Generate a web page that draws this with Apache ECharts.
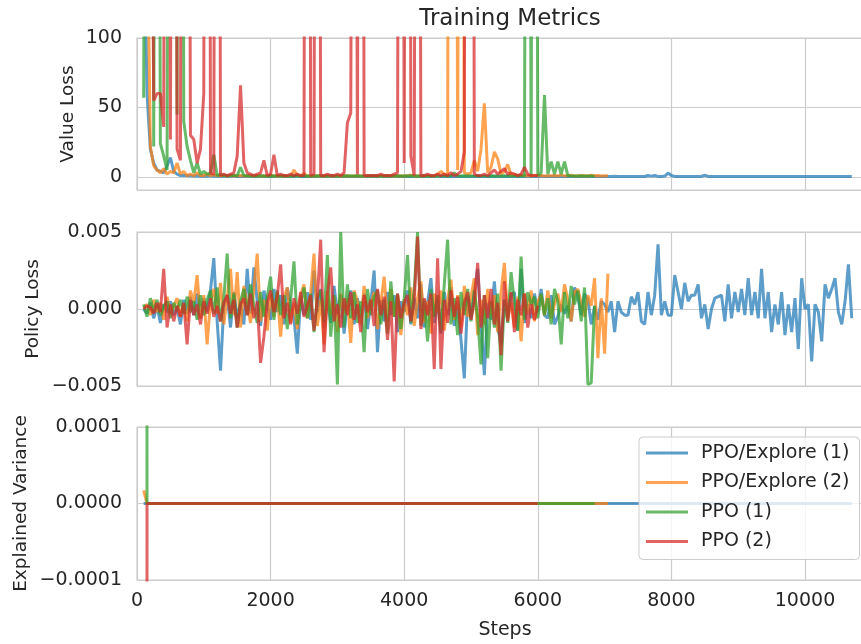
<!DOCTYPE html>
<html>
<head>
<meta charset="utf-8">
<script src="https://cdn.jsdelivr.net/npm/echarts@6/dist/echarts.min.js"></script>
<style>html,body{margin:0;padding:0;background:#fff}#c{width:861px;height:644px}</style>
</head>
<body>
<div id="c"></div>
<script>
// ---- data ----
const STEP_START = 100, STEP_INTERVAL = 50;
const runNames = ['PPO/Explore (1)', 'PPO/Explore (2)', 'PPO (1)', 'PPO (2)'];
const xTickValues = [0, 2000, 4000, 6000, 8000, 10000];

const valueLossExplore1 = [200, 60, 20, 10, 5, 4, 3, 8, 14, 4, 2, 1,
 1.2, 0.8, 1.0, 0.6, 0.9, 0.5, 0.7, 0.4, 0.8, 0.5,
 0.6, 0.4, 0.7, 0.3, 0.5, 0.6, 0.4, 0.5, 0.3, 0.6,
 0.4, 0.5, 0.3, 0.6, 0.4, 0.3, 0.5, 0.4, 0.6, 0.3,
 0.5, 0.4, 0.3, 0.5, 0.6, 0.4, 0.3, 0.5, 0.4, 0.3,
 0.4, 0.6, 0.3, 0.4, 0.5, 0.3, 0.4, 0.6, 0.3, 0.5,
 0.3, 0.4, 0.5, 0.3, 0.4, 0.3, 0.5, 0.4, 0.3, 0.4,
 0.5, 0.3, 0.4, 0.6, 0.3, 0.4, 0.3, 0.5, 0.4, 0.3,
 0.4, 0.3, 0.5, 0.4, 0.3, 0.4, 0.6, 0.3, 0.4, 0.3,
 0.5, 0.4, 0.3, 0.4, 0.3, 0.5, 0.4, 0.3, 0.4, 0.5,
 0.3, 0.4, 0.3, 0.5, 0.4, 0.3, 0.4, 0.3, 0.5, 0.4,
 0.3, 0.4, 0.5, 0.3, 0.4, 0.3, 0.4, 0.5, 0.3, 0.4,
 0.3, 0.5, 0.4, 0.3, 0.4, 0.3, 0.5, 0.4, 0.3, 0.4,
 0.3, 0.4, 0.5, 0.3, 0.4, 0.3, 0.4,
 0.4, 0.3, 0.5, 0.3, 0.4, 0.3, 0.4, 0.3, 0.4, 0.3,
 0.4, 0.3, 1.0, 0.6, 1.0, 0.4, 0.3, 0.6, 2.8, 1.0,
 0.4, 0.3, 0.4, 0.3, 0.4, 0.3, 0.4, 0.3, 0.4, 1.2,
 0.4, 0.3, 0.4, 0.3, 0.4, 0.3, 0.4, 0.3, 0.4, 0.3,
 0.4, 0.3, 0.4, 0.3, 0.4, 0.3, 0.4, 0.3, 0.4, 0.3,
 0.4, 0.3, 0.4, 0.3, 0.4, 0.3, 0.4, 0.3, 0.4, 0.3,
 0.4, 0.3, 0.4, 0.3, 0.4, 0.3, 0.4, 0.3, 0.4, 0.3,
 0.4, 0.3, 0.4, 0.3];
const valueLossExplore2 = [300, 200, 22, 8, 5, 3, 6, 2, 4, 3, 10, 2,
 4, 1, 2, 1, 3, 1, 1, 2, 1, 1.5,
 1, 0.8, 1.2, 0.7, 1, 0.6, 0.9, 1.1, 0.7, 0.8,
 0.9, 0.6, 1, 0.7, 0.8, 0.6, 1.2, 0.7, 0.9, 0.6,
 0.8, 0.7, 0.6, 5, 1, 0.8, 2.5, 0.7, 0.6, 0.9,
 0.7, 0.8, 0.6, 0.9, 0.7, 0.6, 0.8, 0.7, 0.6, 0.9,
 0.7, 0.6, 0.8, 0.7, 0.6, 0.9, 0.7, 0.6, 0.8, 0.7,
 0.6, 0.8, 0.7, 0.6, 0.9, 0.7, 0.6, 0.8, 1.5, 0.7,
 0.6, 0.8, 0.7, 1.2, 0.8, 0.7, 2, 4, 2, 0.8,
 1400, 1100, 5, 900, 3, 2, 3, 12, 4, 20,
 53, 3, 7, 18, 13, 2, 4, 9, 1, 2,
 1, 1.5, 0.8, 1, 0.7, 1.2, 0.8, 1, 0.7, 0.9,
 0.8, 1, 0.7, 1.5, 0.8, 0.9, 1.2, 0.7, 0.8, 1,
 0.9, 0.7, 1.2, 0.8, 1, 0.7, 0.9, 0.8];
const valueLossPPO1 = [57, 900, 1200, 22, 800, 24, 15, 5, 1000, 1300, 45, 1100,
 40, 22, 12, 3, 10, 2, 4, 2, 3, 16,
 1, 2, 1, 0.8, 1, 1.2, 0.8, 7, 1, 0.8,
 0.7, 0.9, 0.6, 0.8, 0.7, 0.6, 0.8, 0.7, 0.6, 0.8,
 0.6, 0.7, 0.8, 0.6, 0.7, 0.6, 0.8, 0.7, 0.6, 0.7,
 0.8, 0.6, 0.7, 0.6, 0.8, 0.7, 0.6, 0.7, 0.8, 0.6,
 0.7, 0.6, 0.8, 0.7, 0.6, 0.7, 0.8, 0.6, 0.7, 0.6,
 0.8, 0.7, 0.6, 0.7, 0.8, 0.6, 0.7, 0.6, 0.8, 0.7,
 0.6, 0.7, 0.8, 0.6, 0.7, 0.6, 0.8, 0.7, 0.6, 0.7,
 0.8, 3, 0.7, 0.6, 0.8, 0.7, 0.6, 0.7, 0.8, 0.6,
 0.7, 0.6, 0.8, 0.7, 0.6, 0.7, 0.8, 0.6, 0.7, 0.6,
 0.8, 0.7, 0.9, 1000, 1, 1000, 1, 3, 59, 2,
 11, 2, 11, 2, 11, 1, 0.8, 0.7, 0.6, 0.8,
 0.7, 0.6, 0.7, 0.5];
const valueLossPPO2 = [900, 700, 400, 55, 60, 60, 36, 1200, 27, 900, 20, 12,
 1100, 800, 30, 27, 10, 20, 60, 1500, 3, 2,
 1300, 1, 2, 1, 2, 3, 15, 66, 10, 3,
 2, 1, 2, 3, 12, 1, 2, 16, 1, 2,
 1, 1, 2, 1, 2, 1, 1, 1500, 1, 2,
 1200, 1, 1, 2, 1, 1, 2, 1, 3, 39,
 46, 900, 2, 1400, 1, 1, 1, 1, 1, 2,
 1, 1, 1, 2, 3, 1100, 10, 1300, 15, 1,
 1000, 1, 1, 2, 1, 1, 2, 1, 2, 1,
 3, 1, 2, 4, 18, 1600, 1200, 2, 1, 1,
 2, 1, 3, 5, 2, 4, 6, 2, 3, 2,
 1, 2, 7, 2, 1, 1, 1];

const policyLossExplore1 = [0.0000, -0.0003, 0.0004, -0.0006, 0.0002, -0.0009, 0.0003, -0.0002, 0.0005, -0.0004, 0.0001, -0.0010, 0.0006, -0.0003,
 0.0008, -0.0004, 0.0010, -0.0006, 0.0007, -0.0002, 0.0012,
 0.0033, -0.0008, -0.0040, 0.0002, 0.0009, -0.0012, 0.0011, -0.0006, 0.0004, -0.0010,
 0.0026, -0.0003, 0.0027, 0.0005, -0.0011, 0.0012, 0.0003, -0.0007, 0.0013, -0.0002,
 0.0009, -0.0010, 0.0014, 0.0002, -0.0006, -0.0029, 0.0008, -0.0004, 0.0011, -0.0007,
 0.0025, -0.0002, 0.0013, -0.0012, 0.0006, -0.0009, 0.0015, -0.0003, 0.0009, -0.0016,
 0.0004, 0.0012, -0.0010, 0.0007, -0.0005, 0.0010, -0.0013, 0.0004, 0.0025, -0.0028,
 0.0006, -0.0008, 0.0011, -0.0004, 0.0009, -0.0015, 0.0005, -0.0002, 0.0012, -0.0010,
 0.0007, -0.0006, 0.0016, -0.0012, 0.0004, 0.0020, -0.0009, 0.0006, -0.0016, 0.0011,
 -0.0004, 0.0014, -0.0011, 0.0005, -0.0020, -0.0045, 0.0008, -0.0006, 0.0012, 0.0026,
 -0.0010, -0.0043, 0.0004, -0.0007, 0.0018, -0.0012, -0.0023, 0.0006, -0.0004, 0.0009,
 0.0011, -0.0014, 0.0026, -0.0009, 0.0003, -0.0006, 0.0010, -0.0002, 0.0013, -0.0004,
 -0.0006, 0.0009, -0.0010, -0.0005, 0.0003, -0.0003, 0.0002, -0.0008, 0.0014, 0.0008,
 -0.0004, 0.0010, 0.0006, -0.0010, 0.0002, -0.0007, 0.0005, 0.0003,
 -0.0002, 0.0005, -0.0015, 0.0005, -0.0002, -0.0004, -0.0004, 0.0008, 0.0003, 0.0011,
 -0.0008, -0.0010, 0.0011, -0.0004, 0.0009, 0.0042, -0.0004, 0.0005, -0.0004, -0.0004,
 0.0022, 0.0011, 0.0000, 0.0017, 0.0005, 0.0009, 0.0009, 0.0016, -0.0006, 0.0003,
 -0.0013, 0.0000, 0.0007, 0.0008, 0.0009, -0.0008, 0.0016, -0.0006, 0.0011, -0.0002,
 0.0013, -0.0004, 0.0020, -0.0004, 0.0011, -0.0006, 0.0026, -0.0006, 0.0011, -0.0015,
 0.0003, -0.0010, 0.0011, -0.0017, 0.0003, -0.0015, 0.0007, -0.0026, 0.0020, 0.0000,
 0.0003, -0.0034, 0.0003, -0.0002, -0.0021, 0.0016, 0.0007, 0.0013, 0.0020, -0.0002,
 -0.0010, 0.0005, 0.0029, -0.0006];
const policyLossExplore2 = [0.0001, 0.0003, -0.0004, 0.0006, -0.0002, 0.0004, -0.0007, 0.0008, -0.0003, 0.0002, 0.0007, -0.0005, 0.0003, -0.0008,
 0.0012, 0.0004, 0.0022, -0.0006, 0.0009, -0.0023, 0.0005,
 0.0013, -0.0003, 0.0017, -0.0010, 0.0008, 0.0026, -0.0004, 0.0024, -0.0012, 0.0015, 0.0003, -0.0009, 0.0013, 0.0036, -0.0008, 0.0006, -0.0014, 0.0010,
 -0.0005, 0.0011, -0.0018, 0.0007, 0.0014, -0.0009, 0.0004, -0.0013, 0.0009, 0.0016, -0.0006, 0.0010, 0.0036, -0.0011, 0.0006, -0.0023, 0.0012, -0.0004, 0.0008, -0.0015,
 0.0010, -0.0003, 0.0007, -0.0022, 0.0012, 0.0005, -0.0010, 0.0015, -0.0006, 0.0003, 0.0011, -0.0013, 0.0004, 0.0021, -0.0008, 0.0013, -0.0005, 0.0009, -0.0017, 0.0006,
 -0.0004, 0.0014, -0.0011, 0.0007, 0.0018, -0.0009, 0.0005, -0.0016, 0.0010, -0.0002, 0.0012, -0.0014, 0.0006, 0.0019, -0.0007, 0.0009, -0.0012, 0.0015, -0.0005, 0.0008,
 0.0020, -0.0017, 0.0006, -0.0010, 0.0013, -0.0004, 0.0009, -0.0015, 0.0011, 0.0030, -0.0006, 0.0004, -0.0012, 0.0008, -0.0021, 0.0010, -0.0003, 0.0012, -0.0008, 0.0005,
 0.0009, -0.0004, 0.0012, -0.0006, 0.0003, 0.0010, -0.0002, 0.0016, 0.0006, -0.0008, 0.0011, 0.0013, 0.0004, -0.0005, 0.0009, 0.0002, 0.0020, -0.0032, 0.0007, -0.0029, 0.0023];
const policyLossPPO1 = [0.0003, -0.0005, 0.0007, -0.0002, 0.0006, -0.0004, 0.0002, 0.0005, -0.0006, 0.0004, -0.0001, 0.0006, -0.0003, 0.0008,
 -0.0002, 0.0005, -0.0007, 0.0009, -0.0004, 0.0006, 0.0012,
 -0.0003, 0.0014, -0.0008, 0.0007, 0.0036, -0.0006, 0.0010, -0.0012, 0.0005, 0.0013, -0.0004, 0.0016, 0.0002, -0.0009, 0.0011, -0.0005, 0.0008, 0.0021,
 -0.0007, 0.0012, -0.0004, 0.0009, -0.0013, 0.0006, 0.0031, -0.0010, 0.0004, 0.0014, -0.0006, 0.0010, -0.0015, 0.0007, 0.0012, -0.0008, 0.0035, -0.0018, 0.0009, -0.0049,
 0.0050, -0.0012, 0.0016, -0.0006, 0.0011, -0.0009, 0.0005, -0.0028, 0.0013, -0.0004, 0.0008, 0.0012, -0.0010, 0.0006, -0.0016, 0.0018, -0.0005, 0.0010, -0.0013, 0.0007,
 0.0035, -0.0009, 0.0012, 0.0050, -0.0011, 0.0006, -0.0021, 0.0013, -0.0005, 0.0009, -0.0014, 0.0016, 0.0045, -0.0010, 0.0007, -0.0017, 0.0011, -0.0004, 0.0013, -0.0008,
 0.0012, -0.0006, -0.0036, 0.0009, -0.0032, 0.0005, -0.0012, 0.0010, -0.0040, 0.0006, -0.0009, 0.0024, 0.0004, -0.0014, 0.0034, -0.0007, 0.0011, 0.0003, 0.0008, -0.0006,
 0.0010, -0.0004, 0.0007, -0.0010, 0.0013, 0.0005, -0.0023, 0.0011, -0.0006, 0.0015, 0.0003, 0.0012, -0.0008, 0.0014, -0.0049, -0.0048, 0.0002];
const policyLossPPO2 = [0.0000, 0.0002, 0.0001, -0.0003, 0.0004, -0.0002, 0.0026, -0.0012, 0.0003, -0.0008, 0.0002, -0.0005, 0.0004, -0.0023,
 0.0006, -0.0004, 0.0003, -0.0010, 0.0005, -0.0003, 0.0007,
 -0.0005, 0.0002, -0.0008, 0.0004, 0.0009, -0.0003, 0.0006, -0.0012, 0.0003, 0.0007, -0.0004, 0.0010, -0.0006, 0.0005, -0.0035, -0.0018, 0.0004, 0.0012,
 -0.0002, 0.0008, 0.0029, -0.0006, 0.0004, -0.0010, 0.0007, -0.0003, 0.0011, -0.0005, 0.0002, 0.0009, -0.0014, 0.0006, 0.0045, -0.0028, 0.0010, 0.0027, -0.0008, 0.0003,
 -0.0012, 0.0007, -0.0004, 0.0011, -0.0007, 0.0003, -0.0015, 0.0009, -0.0002, 0.0006, -0.0011, 0.0013, -0.0004, 0.0008, -0.0020, 0.0005, -0.0047, 0.0010, -0.0006, 0.0004,
 0.0009, -0.0008, 0.0005, 0.0047, -0.0013, 0.0007, -0.0004, 0.0010, -0.0039, 0.0033, -0.0039, 0.0006, -0.0009, 0.0012, -0.0005, 0.0008, -0.0016, 0.0004, 0.0011, -0.0007,
 0.0005, 0.0030, -0.0012, 0.0009, -0.0006, 0.0013, -0.0010, 0.0004, -0.0030, 0.0018, -0.0008, 0.0011, -0.0015, 0.0006, -0.0004, 0.0010, -0.0012, 0.0003, -0.0007, 0.0002];

// explained variance: listed as [step, value] readings (flat at 0 after the first log)
const evExplore1 = [[100, 0], [10700, 0]];
const evExplore2 = [[100, 0.000017], [150, 0], [7050, 0]];
const evPPO1 = [[100, 0.01], [150, 0], [6850, 0]];
const evPPO2 = [[100, -0.05], [150, 0], [6000, 0]];

// ---- chart ----
const colors = ['#1f77b4', '#ff7f0e', '#2ca02c', '#d62728'];
const FONT = 'DejaVu Sans';
const TXT = '#262626';
const GRIDC = '#cccccc';
const TICK_FS = 19;

function withSteps(vals) { return vals.map((v, i) => [STEP_START + STEP_INTERVAL * i, v]); }
function minusFmt(d) { return v => { if (Math.abs(v) < 1e-12) v = 0; return v.toFixed(d).replace('-', '\u2212'); }; }

const valueLoss = [valueLossExplore1, valueLossExplore2, valueLossPPO1, valueLossPPO2];
const policyLoss = [policyLossExplore1, policyLossExplore2, policyLossPPO1, policyLossPPO2];
const explVar = [evExplore1, evExplore2, evPPO1, evPPO2];

const gridTops = [38, 232, 427];
const gridHeights = [152, 154, 153];
const XMAX = 11018;

const grids = gridTops.map((t, i) => ({
  left: 137, width: 736, top: t, height: gridHeights[i],
  containLabel: false, outerBoundsMode: 'none',
  show: true, borderColor: GRIDC, borderWidth: 1.2, backgroundColor: 'transparent'
}));

const xAxes = [0, 1, 2].map(i => ({
  type: 'value', gridIndex: i, min: 0, max: XMAX, interval: 2000,
  axisLine: { show: false }, axisTick: { show: false },
  splitLine: { show: true, lineStyle: { color: GRIDC, width: 1.2 } },
  axisLabel: { show: i === 2, showMaxLabel: false, fontSize: TICK_FS, color: TXT, fontFamily: FONT, margin: 12,
    formatter: v => String(v) },
  name: i === 2 ? 'Steps' : '', nameLocation: 'middle', nameGap: 41, nameMoveOverlap: false,
  nameTextStyle: { fontSize: 19, color: TXT, fontFamily: FONT }
}));

const yCommon = {
  axisLine: { show: false }, axisTick: { show: false },
  splitLine: { show: true, lineStyle: { color: GRIDC, width: 1.2 } },
  nameLocation: 'middle', nameMoveOverlap: false,
  nameTextStyle: { fontSize: 18.5, color: TXT, fontFamily: FONT }
};
const yAxes = [
  Object.assign({}, yCommon, {
    type: 'value', gridIndex: 0, min: -9.4, max: 100, splitNumber: 2,
    name: 'Value Loss', nameGap: 59,
    axisLabel: { showMinLabel: false, fontSize: TICK_FS, color: TXT, fontFamily: FONT, margin: 15,
      formatter: v => (Math.abs(v) < 1e-9 ? '0' : String(v)) }
  }),
  Object.assign({}, yCommon, {
    type: 'value', gridIndex: 1, min: -0.005, max: 0.005, interval: 0.005,
    name: 'Policy Loss', nameGap: 94,
    axisLabel: { fontSize: TICK_FS, color: TXT, fontFamily: FONT, margin: 15, formatter: minusFmt(3) }
  }),
  Object.assign({}, yCommon, {
    type: 'value', gridIndex: 2, min: -0.0001, max: 0.0001, interval: 0.0001,
    name: 'Explained Variance', nameGap: 106,
    axisLabel: { fontSize: TICK_FS, color: TXT, fontFamily: FONT, margin: 15, formatter: minusFmt(4) }
  })
];

const series = [];
function addSeries(idx, dataList) {
  dataList.forEach((d, k) => {
    series.push({
      type: 'line', name: runNames[k], xAxisIndex: idx, yAxisIndex: idx,
      data: d, showSymbol: false, symbol: 'none', clip: true,
      lineStyle: { color: colors[k], width: 3, opacity: 0.72 },
      itemStyle: { color: colors[k] },
      emphasis: { disabled: true }, z: 2 + k
    });
  });
}
addSeries(0, valueLoss.map(withSteps));
addSeries(1, policyLoss.map(withSteps));
addSeries(2, explVar);

const chart = echarts.init(document.getElementById('c'), null, { renderer: 'canvas' });
chart.setOption({
  animation: false,
  backgroundColor: '#ffffff',
  color: colors,
  title: {
    text: 'Training Metrics', left: 505, top: 3, textAlign: 'center',
    textStyle: { fontSize: 23, fontWeight: 'normal', color: TXT, fontFamily: FONT }
  },
  legend: {
    data: runNames, orient: 'vertical', left: 639, top: 437,
    icon: 'rect', itemWidth: 42, itemHeight: 3, itemGap: 9.5,
    itemStyle: { opacity: 0.72 },
    padding: [6, 10, 8, 7],
    backgroundColor: 'rgba(255,255,255,0.8)', borderColor: '#cccccc', borderWidth: 1, borderRadius: 4,
    textStyle: { fontSize: 19, color: TXT, fontFamily: FONT, lineHeight: 20, padding: [0, 0, 0, 8] }
  },
  grid: grids, xAxis: xAxes, yAxis: yAxes, series: series
});
</script>
</body>
</html>
